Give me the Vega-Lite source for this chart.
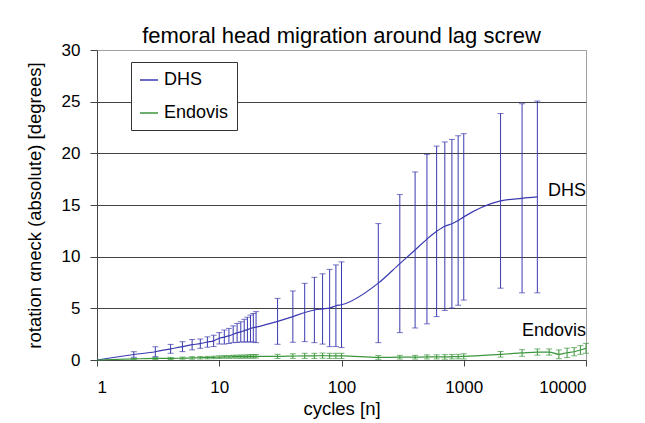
{
  "$schema": "https://vega.github.io/schema/vega-lite/v6.json",
  "width": 489,
  "height": 310,
  "autosize": {"type": "none"},
  "padding": {"left": 97, "top": 50, "right": 59, "bottom": 63},
  "background": "white",
  "title": {"text": "femoral head migration around lag screw", "fontSize": 22, "fontWeight": "normal", "color": "#000", "anchor": "middle", "frame": "group", "baseline": "alphabetic", "offset": 8, "dy": 32},
  "datasets": {
    "series": [
      {"series": "DHS", "cycles": 1, "mean": 0, "sd": 0},
      {"series": "DHS", "cycles": 2, "mean": 0.53, "sd": 0.27},
      {"series": "DHS", "cycles": 3, "mean": 0.8, "sd": 0.48},
      {"series": "DHS", "cycles": 4, "mean": 1.08, "sd": 0.43},
      {"series": "DHS", "cycles": 5, "mean": 1.29, "sd": 0.48},
      {"series": "DHS", "cycles": 6, "mean": 1.48, "sd": 0.5},
      {"series": "DHS", "cycles": 7, "mean": 1.58, "sd": 0.45},
      {"series": "DHS", "cycles": 8, "mean": 1.74, "sd": 0.5},
      {"series": "DHS", "cycles": 9, "mean": 1.85, "sd": 0.55},
      {"series": "DHS", "cycles": 10, "mean": 2.1, "sd": 0.55},
      {"series": "DHS", "cycles": 11, "mean": 2.22, "sd": 0.68},
      {"series": "DHS", "cycles": 12, "mean": 2.33, "sd": 0.73},
      {"series": "DHS", "cycles": 13, "mean": 2.49, "sd": 0.81},
      {"series": "DHS", "cycles": 14, "mean": 2.62, "sd": 0.92},
      {"series": "DHS", "cycles": 15, "mean": 2.72, "sd": 0.98},
      {"series": "DHS", "cycles": 16, "mean": 2.84, "sd": 1.1},
      {"series": "DHS", "cycles": 17, "mean": 2.94, "sd": 1.2},
      {"series": "DHS", "cycles": 18, "mean": 3.05, "sd": 1.3},
      {"series": "DHS", "cycles": 19, "mean": 3.12, "sd": 1.38},
      {"series": "DHS", "cycles": 20, "mean": 3.18, "sd": 1.5},
      {"series": "DHS", "cycles": 30, "mean": 3.74, "sd": 2.22},
      {"series": "DHS", "cycles": 40, "mean": 4.2, "sd": 2.48},
      {"series": "DHS", "cycles": 50, "mean": 4.6, "sd": 2.82},
      {"series": "DHS", "cycles": 60, "mean": 4.84, "sd": 3.16},
      {"series": "DHS", "cycles": 70, "mean": 4.94, "sd": 3.4},
      {"series": "DHS", "cycles": 80, "mean": 5.03, "sd": 3.74},
      {"series": "DHS", "cycles": 90, "mean": 5.25, "sd": 3.95},
      {"series": "DHS", "cycles": 100, "mean": 5.35, "sd": 4.15},
      {"series": "DHS", "cycles": 200, "mean": 7.44, "sd": 5.76},
      {"series": "DHS", "cycles": 300, "mean": 9.33, "sd": 6.68},
      {"series": "DHS", "cycles": 400, "mean": 10.65, "sd": 7.55},
      {"series": "DHS", "cycles": 500, "mean": 11.7, "sd": 8.2},
      {"series": "DHS", "cycles": 600, "mean": 12.45, "sd": 8.25},
      {"series": "DHS", "cycles": 700, "mean": 12.95, "sd": 8.15},
      {"series": "DHS", "cycles": 800, "mean": 13.19, "sd": 8.16},
      {"series": "DHS", "cycles": 900, "mean": 13.5, "sd": 8.2},
      {"series": "DHS", "cycles": 1000, "mean": 13.85, "sd": 8.05},
      {"series": "DHS", "cycles": 2000, "mean": 15.4, "sd": 8.45},
      {"series": "DHS", "cycles": 3000, "mean": 15.65, "sd": 9.15},
      {"series": "DHS", "cycles": 4000, "mean": 15.78, "sd": 9.28},
      {"series": "Endovis", "cycles": 1, "mean": 0, "sd": 0},
      {"series": "Endovis", "cycles": 2, "mean": 0.1, "sd": 0.05},
      {"series": "Endovis", "cycles": 3, "mean": 0.15, "sd": 0.1},
      {"series": "Endovis", "cycles": 4, "mean": 0.15, "sd": 0.1},
      {"series": "Endovis", "cycles": 5, "mean": 0.18, "sd": 0.1},
      {"series": "Endovis", "cycles": 6, "mean": 0.2, "sd": 0.12},
      {"series": "Endovis", "cycles": 7, "mean": 0.22, "sd": 0.12},
      {"series": "Endovis", "cycles": 8, "mean": 0.23, "sd": 0.12},
      {"series": "Endovis", "cycles": 9, "mean": 0.25, "sd": 0.12},
      {"series": "Endovis", "cycles": 10, "mean": 0.28, "sd": 0.13},
      {"series": "Endovis", "cycles": 11, "mean": 0.3, "sd": 0.13},
      {"series": "Endovis", "cycles": 12, "mean": 0.3, "sd": 0.13},
      {"series": "Endovis", "cycles": 13, "mean": 0.32, "sd": 0.14},
      {"series": "Endovis", "cycles": 14, "mean": 0.32, "sd": 0.14},
      {"series": "Endovis", "cycles": 15, "mean": 0.33, "sd": 0.15},
      {"series": "Endovis", "cycles": 16, "mean": 0.33, "sd": 0.15},
      {"series": "Endovis", "cycles": 17, "mean": 0.34, "sd": 0.15},
      {"series": "Endovis", "cycles": 18, "mean": 0.35, "sd": 0.16},
      {"series": "Endovis", "cycles": 19, "mean": 0.35, "sd": 0.16},
      {"series": "Endovis", "cycles": 20, "mean": 0.36, "sd": 0.17},
      {"series": "Endovis", "cycles": 30, "mean": 0.35, "sd": 0.2},
      {"series": "Endovis", "cycles": 40, "mean": 0.38, "sd": 0.22},
      {"series": "Endovis", "cycles": 50, "mean": 0.4, "sd": 0.25},
      {"series": "Endovis", "cycles": 60, "mean": 0.4, "sd": 0.25},
      {"series": "Endovis", "cycles": 70, "mean": 0.42, "sd": 0.25},
      {"series": "Endovis", "cycles": 80, "mean": 0.4, "sd": 0.25},
      {"series": "Endovis", "cycles": 90, "mean": 0.4, "sd": 0.25},
      {"series": "Endovis", "cycles": 100, "mean": 0.4, "sd": 0.25},
      {"series": "Endovis", "cycles": 200, "mean": 0.25, "sd": 0.18},
      {"series": "Endovis", "cycles": 300, "mean": 0.27, "sd": 0.18},
      {"series": "Endovis", "cycles": 400, "mean": 0.27, "sd": 0.18},
      {"series": "Endovis", "cycles": 500, "mean": 0.3, "sd": 0.2},
      {"series": "Endovis", "cycles": 600, "mean": 0.3, "sd": 0.2},
      {"series": "Endovis", "cycles": 700, "mean": 0.3, "sd": 0.22},
      {"series": "Endovis", "cycles": 800, "mean": 0.32, "sd": 0.22},
      {"series": "Endovis", "cycles": 900, "mean": 0.33, "sd": 0.22},
      {"series": "Endovis", "cycles": 1000, "mean": 0.35, "sd": 0.25},
      {"series": "Endovis", "cycles": 2000, "mean": 0.55, "sd": 0.27},
      {"series": "Endovis", "cycles": 3000, "mean": 0.68, "sd": 0.32},
      {"series": "Endovis", "cycles": 4000, "mean": 0.77, "sd": 0.3},
      {"series": "Endovis", "cycles": 5000, "mean": 0.77, "sd": 0.3},
      {"series": "Endovis", "cycles": 6000, "mean": 0.55, "sd": 0.43},
      {"series": "Endovis", "cycles": 7000, "mean": 0.7, "sd": 0.45},
      {"series": "Endovis", "cycles": 8000, "mean": 0.8, "sd": 0.4},
      {"series": "Endovis", "cycles": 9000, "mean": 0.97, "sd": 0.42},
      {"series": "Endovis", "cycles": 10000, "mean": 1.13, "sd": 0.48}
    ],
    "labels": [
      {"label": "DHS", "cycles": 10000, "value": 16.4},
      {"label": "Endovis", "cycles": 10000, "value": 2.8}
    ]
  },
  "layer": [
    {
      "data": {"name": "series"},
      "mark": {"type": "line", "strokeWidth": 1.2, "interpolate": "monotone"},
      "encoding": {
        "x": {"field": "cycles", "type": "quantitative", "title": "cycles [n]",
              "scale": {"type": "log", "domain": [1, 10000]},
              "axis": {"values": [1, 10, 100, 1000, 10000], "format": "d", "grid": false}},
        "y": {"field": "mean", "type": "quantitative", "title": "rotation αneck (absolute) [degrees]",
              "scale": {"domain": [0, 30]},
              "axis": {"values": [0, 5, 10, 15, 20, 25, 30], "grid": true,
                       "gridColor": {"condition": {"test": "datum.value === 30", "value": "#a0a0a0"}, "value": "#444444"}}},
        "color": {"field": "series", "type": "nominal",
                  "scale": {"domain": ["DHS", "Endovis"], "range": ["#3a3ab0", "#3c963c"]},
                  "legend": {"title": null, "orient": "none", "legendX": 34, "legendY": 12}}
      }
    },
    {
      "data": {"name": "series"},
      "transform": [{"filter": "datum.sd > 0"}],
      "mark": {"type": "errorbar", "ticks": {"size": 6}, "thickness": 1},
      "encoding": {
        "x": {"field": "cycles", "type": "quantitative", "title": "cycles [n]"},
        "y": {"field": "mean", "type": "quantitative", "title": "rotation αneck (absolute) [degrees]"},
        "yError": {"field": "sd"},
        "color": {"field": "series", "type": "nominal", "legend": null}
      }
    },
    {
      "data": {"name": "labels"},
      "mark": {"type": "text", "align": "right", "baseline": "middle", "fontSize": 18, "color": "#000"},
      "encoding": {
        "x": {"field": "cycles", "type": "quantitative", "title": "cycles [n]"},
        "y": {"field": "value", "type": "quantitative", "title": "rotation αneck (absolute) [degrees]"},
        "text": {"field": "label"}
      }
    }
  ],
  "config": {
    "font": "Liberation Sans",
    "view": {"stroke": "#a0a0a0", "strokeWidth": 1},
    "axis": {"domainColor": "#444444", "tickColor": "#444444", "labelColor": "#000", "titleColor": "#000",
             "labelFontSize": 17, "titleFontSize": 18.5, "titleFontWeight": "normal", "labelFont": "Liberation Sans", "titleFont": "Liberation Sans"},
    "axisX": {"tickSize": 6, "labelPadding": 13, "titlePadding": 4},
    "axisY": {"tickSize": 7, "labelPadding": 10, "titlePadding": 17},
    "legend": {"strokeColor": "#333333", "fillColor": "white", "padding": 8, "rowPadding": 14,
               "symbolType": "stroke", "symbolSize": 324, "symbolStrokeWidth": 1.5,
               "labelFontSize": 18, "labelOffset": 5, "labelColor": "#000", "labelFont": "Liberation Sans"}
  }
}
